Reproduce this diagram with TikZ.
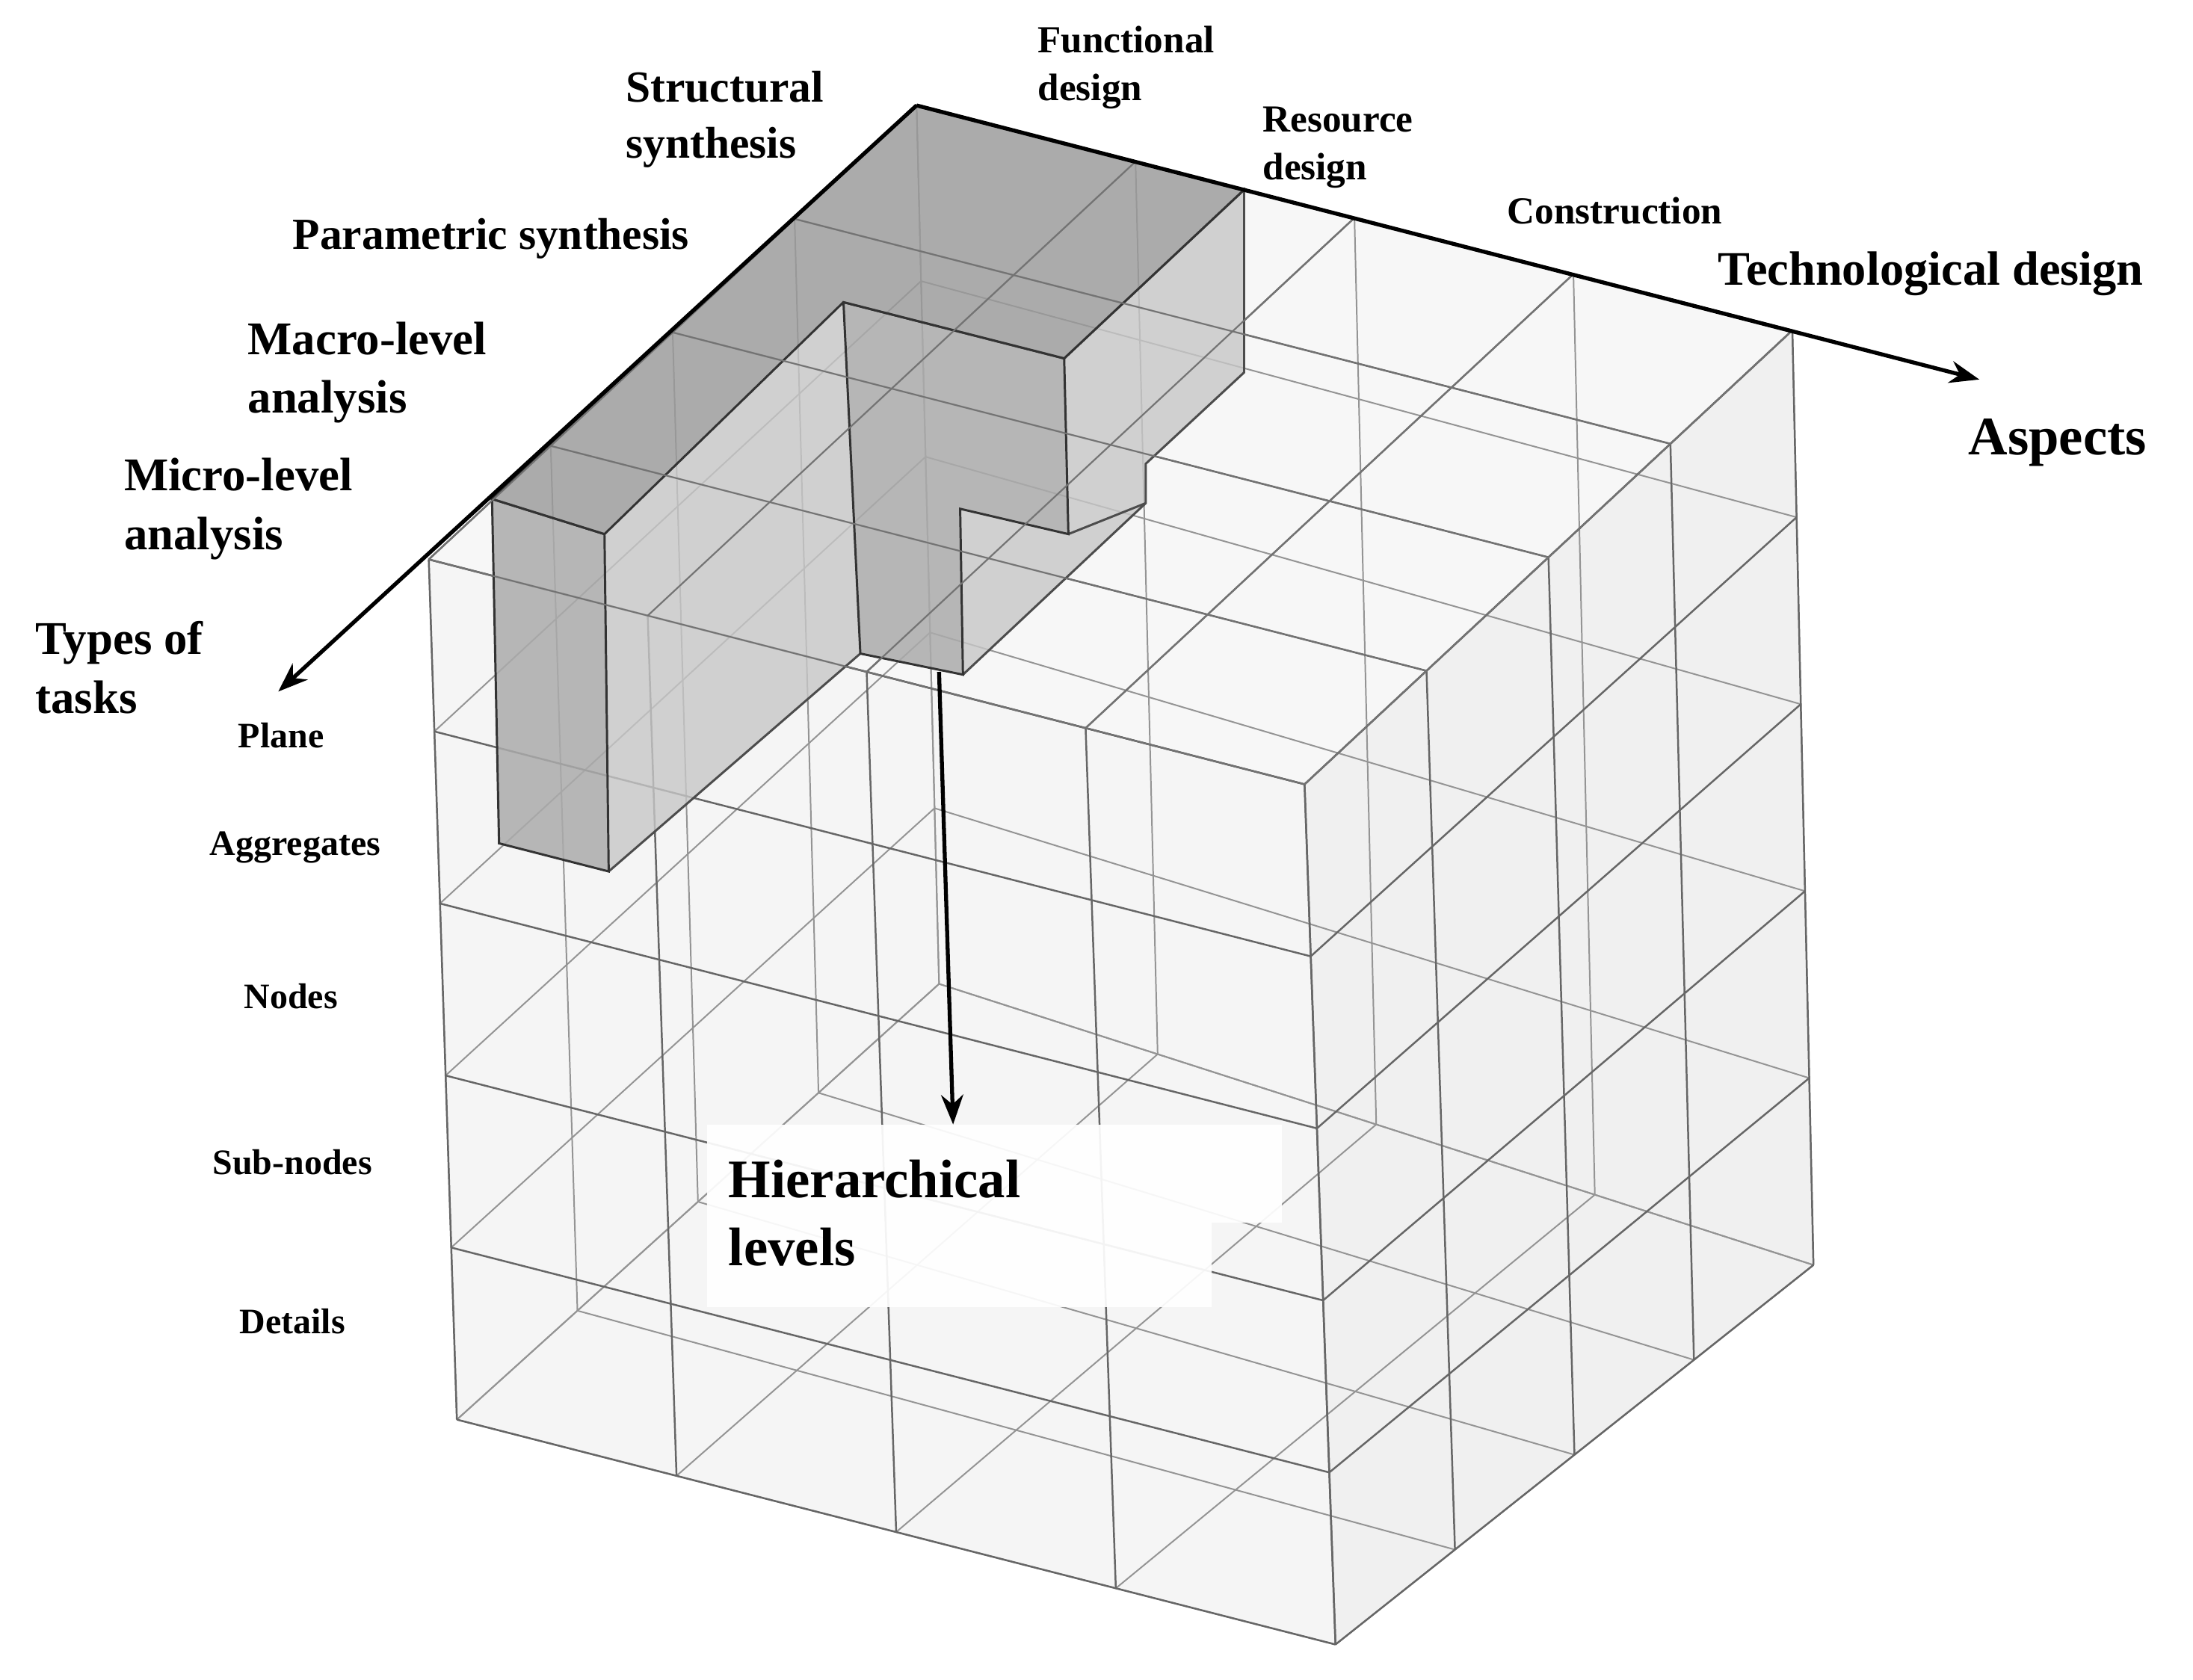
\documentclass[tikz,border=0pt]{standalone}
\usepackage{fontspec}
\setmainfont{Liberation Serif}
\usetikzlibrary{calc,arrows.meta}
\newcommand\facegrid[7]{%
\foreach \i in {0,...,#5} {\draw[#7] ($(#1)!{\i/#5}!(#2)$) -- ($(#3)!{\i/#5}!(#4)$);}
\foreach \j in {0,...,#6} {\draw[#7] ($(#1)!{\j/#6}!(#3)$) -- ($(#2)!{\j/#6}!(#4)$);}}
\newcommand\fs[1]{\fontsize{#1pt}{1.25\dimexpr #1pt\relax}\selectfont\bfseries}
\begin{document}
\begin{tikzpicture}[x=0.02cm,y=-0.02cm,
  grid/.style={draw=black!60,line width=0.75pt},
  bgrid/.style={draw=black!42,line width=0.6pt},
  axis/.style={line width=1.6pt,-{Stealth[length=12pt,width=9pt]}},
  lab/.style={anchor=west,align=left,inner sep=0pt}]
\useasboundingbox (0,0) rectangle (1560,1195);
\fill[white] (0,0) rectangle (1560,1195);
% corners
\coordinate (A) at (652,75);  \coordinate (L) at (305,398);
\coordinate (R) at (1275,235); \coordinate (F) at (928,558);
\coordinate (Ab) at (668,700); \coordinate (Lb) at (325,1010);
\coordinate (Rb) at (1290,900); \coordinate (Fb) at (950,1170);
% fills
\fill[black!4] (L) -- (F) -- (Fb) -- (Lb) -- cycle;
\fill[black!6] (F) -- (R) -- (Rb) -- (Fb) -- cycle;
\fill[black!3] (A) -- (L) -- (F) -- (R) -- cycle;
% back grids
\facegrid{A}{L}{Ab}{Lb}{4}{5}{bgrid}
\facegrid{A}{R}{Ab}{Rb}{4}{5}{bgrid}
\facegrid{Ab}{Lb}{Rb}{Fb}{4}{4}{bgrid}
% front grids
\facegrid{A}{L}{R}{F}{4}{4}{grid}
\facegrid{L}{F}{Lb}{Fb}{4}{5}{grid}
\facegrid{F}{R}{Fb}{Rb}{4}{5}{grid}
% block
\begin{scope}[line width=0.9pt]
\fill[black!22,opacity=0.8] (757,255) -- (885,135) -- (885,265) -- (815,330) -- (815,358) -- (685,480) -- (683,362) -- (760,380) -- cycle;
\draw[black!70] (757,255) -- (885,135) -- (885,265) -- (815,330) -- (815,358) -- (685,480);
\draw[black!70] (760,380) -- (815,358);
\fill[black!22,opacity=0.8] (430,380) -- (600,215) -- (612,465) -- (433,620) -- cycle;
\draw[black!70] (433,620) -- (612,465);
\fill[black!33,opacity=0.85] (600,215) -- (757,255) -- (760,380) -- (683,362) -- (685,480) -- (612,465) -- cycle;
\draw[black!80] (600,215) -- (757,255) -- (760,380) -- (683,362) -- (685,480) -- (612,465) -- cycle;
\fill[black!33,opacity=0.85] (350,355) -- (430,380) -- (433,620) -- (355,600) -- cycle;
\draw[black!80] (350,355) -- (430,380) -- (433,620) -- (355,600) -- cycle;
\fill[black!40,opacity=0.8] (652,75) -- (885,135) -- (757,255) -- (600,215) -- (430,380) -- (350,355) -- cycle;
\draw[black!80] (652,75) -- (885,135) -- (757,255) -- (600,215) -- (430,380) -- (350,355) -- cycle;
\end{scope}
\facegrid{A}{L}{R}{F}{4}{4}{draw=black!55,line width=0.6pt}
% label box
\fill[white,opacity=0.92] (503,800) rectangle (862,930);
\fill[white,opacity=0.92] (862,800) rectangle (912,870);
% axes
\coordinate (tt) at (198,492);
\coordinate (asp) at (1408,270);
\coordinate (hs) at (668,478);
\coordinate (he) at (678,800);
\draw[axis] (A) -- (tt);
\draw[axis] (A) -- (asp);
\draw[axis] (hs) -- (he);
% labels
\node[lab,font=\fs{15.5}] (fd) at (738,48) {Functional\\design};
\node[lab,font=\fs{15.5}] (rd) at (898,105) {Resource\\design};
\node[lab,font=\fs{15.5}] (co) at (1072,150) {Construction};
\node[lab,font=\fs{19.5}] (td) at (1222,195) {Technological design};
\node[lab,font=\fs{22}] (as) at (1400,315) {Aspects};
\node[lab,font=\fs{18}] (ss) at (445,85) {Structural\\synthesis};
\node[lab,font=\fs{18}] (ps) at (208,170) {Parametric synthesis};
\node[lab,font=\fs{19}] (ma) at (176,265) {Macro-level\\analysis};
\node[lab,font=\fs{19}] (mi) at (88,362) {Micro-level\\analysis};
\node[lab,font=\fs{19}] (ty) at (25,475) {Types of\\tasks};
\node[font=\fs{14.5}] (pl) at (200,523) {Plane};
\node[font=\fs{14.5}] (ag) at (210,603) {Aggregates};
\node[font=\fs{14.5}] (no) at (207,709) {Nodes};
\node[font=\fs{14.5}] (sn) at (208,827) {Sub-nodes};
\node[font=\fs{14.5}] (de) at (208,940) {Details};
\node[lab,font=\fs{22}] (hl) at (518,863) {Hierarchical\\levels};
\end{tikzpicture}
\end{document}
